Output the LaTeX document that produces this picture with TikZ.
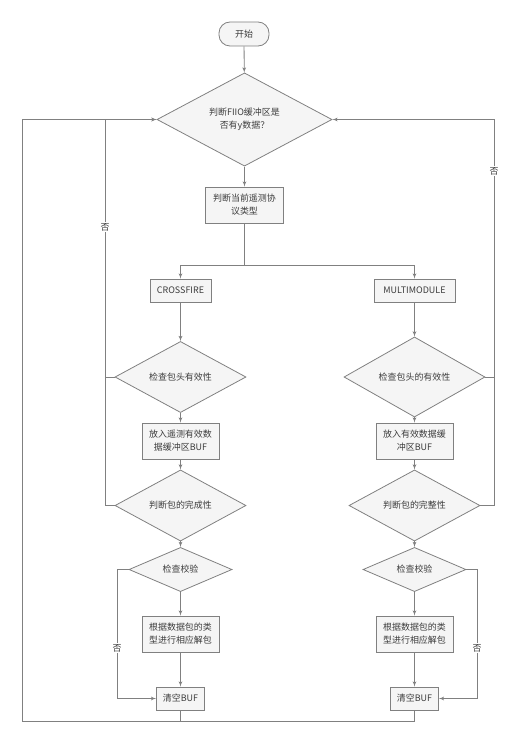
\documentclass[tikz,border=0pt]{standalone}
\usepackage{fontspec}
\newfontfamily\cjk{Noto Sans CJK SC}
\usetikzlibrary{arrows,shapes.geometric}
\definecolor{linegray}{HTML}{808080}
\definecolor{fillgray}{HTML}{F5F5F5}
\definecolor{textgray}{HTML}{3C3C3C}

\begin{document}
\begin{tikzpicture}[x=1bp,y=-1bp]
\tikzset{base/.style = {draw=linegray, fill=fillgray, line width=0.8pt, text=textgray,
  font=\cjk\fontsize{9}{13}\selectfont, align=center, inner sep=1pt}}
\tikzset{term/.style = {base, rectangle, rounded corners=11bp, minimum width=50bp, minimum height=24bp}}
\tikzset{proc/.style = {base, rectangle, minimum width=77bp, minimum height=36bp}}
\tikzset{test/.style = {base, diamond, inner sep=0pt}}
\tikzset{edge/.style = {->, > = latex', draw=linegray, line width=0.8pt}}
\tikzset{line/.style = {draw=linegray, line width=0.8pt}}
\tikzset{no/.style = {fill=white, text=textgray, font=\cjk\fontsize{9}{13}\selectfont, inner sep=1pt}}

\useasboundingbox (0,0) rectangle (526,742);

\node[term] (s) at (244,34) {开始};
\node[test, minimum width=175bp, minimum height=63bp] (d) at (244.5,119.5) {判断FIIO缓冲区是\\否有y数据？};
\node[proc, minimum width=78bp] (p) at (244.5,205) {判断当前遥测协\\议类型};

\node[proc, minimum width=61bp, minimum height=23bp] (cf) at (180.5,290.5) {CROSSFIRE};
\node[proc, minimum width=81bp, minimum height=23bp] (mm) at (414.5,290.5) {MULTIMODULE};

\node[test, minimum width=131bp, minimum height=48bp] (h1) at (180.5,377) {检查包头有效性};
\node[test, minimum width=141bp, minimum height=50bp] (h2) at (414.5,377) {检查包头的有效性};
\node[proc] (b1) at (180.5,441) {放入遥测有效数\\据缓冲区BUF};
\node[proc] (b2) at (414.5,441) {放入有效数据缓\\冲区BUF};
\node[test, minimum width=131bp, minimum height=47bp] (c1) at (180.5,505.5) {判断包的完成性};
\node[test, minimum width=131bp, minimum height=47bp] (c2) at (414.5,505.5) {判断包的完整性};
\node[test, minimum width=103bp, minimum height=37bp] (v1) at (180.5,569.5) {检查校验};
\node[test, minimum width=103bp, minimum height=37bp] (v2) at (414.5,569.5) {检查校验};
\node[proc] (u1) at (180.5,634) {根据数据包的类\\型进行相应解包};
\node[proc] (u2) at (414.5,634) {根据数据包的类\\型进行相应解包};
\node[proc, minimum width=48bp, minimum height=23bp] (e1) at (180.5,698.5) {清空BUF};
\node[proc, minimum width=48bp, minimum height=23bp] (e2) at (414.5,698.5) {清空BUF};

\coordinate (split) at (244.5,265);
\coordinate (outer) at (22,721);
\coordinate (inl) at (105,0);
\coordinate (inr) at (494,0);
\coordinate (nol) at (117,0);
\coordinate (nor) at (477,0);

\draw[edge] (s) -- (d);
\draw[edge] (d) -- (p);
\draw[edge] (p) -- (split) -| (cf);
\draw[edge] (split) -| (mm);
\draw[edge] (cf) -- (h1);
\draw[edge] (mm) -- (h2);
\draw[edge] (h1) -- (b1);
\draw[edge] (h2) -- (b2);
\draw[edge] (b1) -- (c1);
\draw[edge] (b2) -- (c2);
\draw[edge] (c1) -- (v1);
\draw[edge] (c2) -- (v2);
\draw[edge] (v1) -- (u1);
\draw[edge] (v2) -- (u2);
\draw[edge] (u1) -- (e1);
\draw[edge] (u2) -- (e2);

% no -> back to the buffer check
\draw[edge] (c1.west) -- (c1.west -| inl) |- (d.west);
\draw[line] (h1.west) -- (h1.west -| inl);
\draw[edge] (c2.east) -- (c2.east -| inr) |- (d.east);
\draw[line] (h2.east) -- (h2.east -| inr);
\node[no] (n1) at (105,227) {否};
\node[no] (n2) at (494,171) {否};

% checksum fails
\draw[edge] (v1.west) -- (v1.west -| nol) |- (e1.west);
\draw[edge] (v2.east) -- (v2.east -| nor) |- (e2.east);
\node[no] (n3) at (117,648) {否};
\node[no] (n4) at (477,648) {否};

% loop back
\draw[edge] (e2.south) |- (outer) |- (d.west);
\draw[line] (e1.south) -- (e1.south |- outer);
\end{tikzpicture}
\end{document}
